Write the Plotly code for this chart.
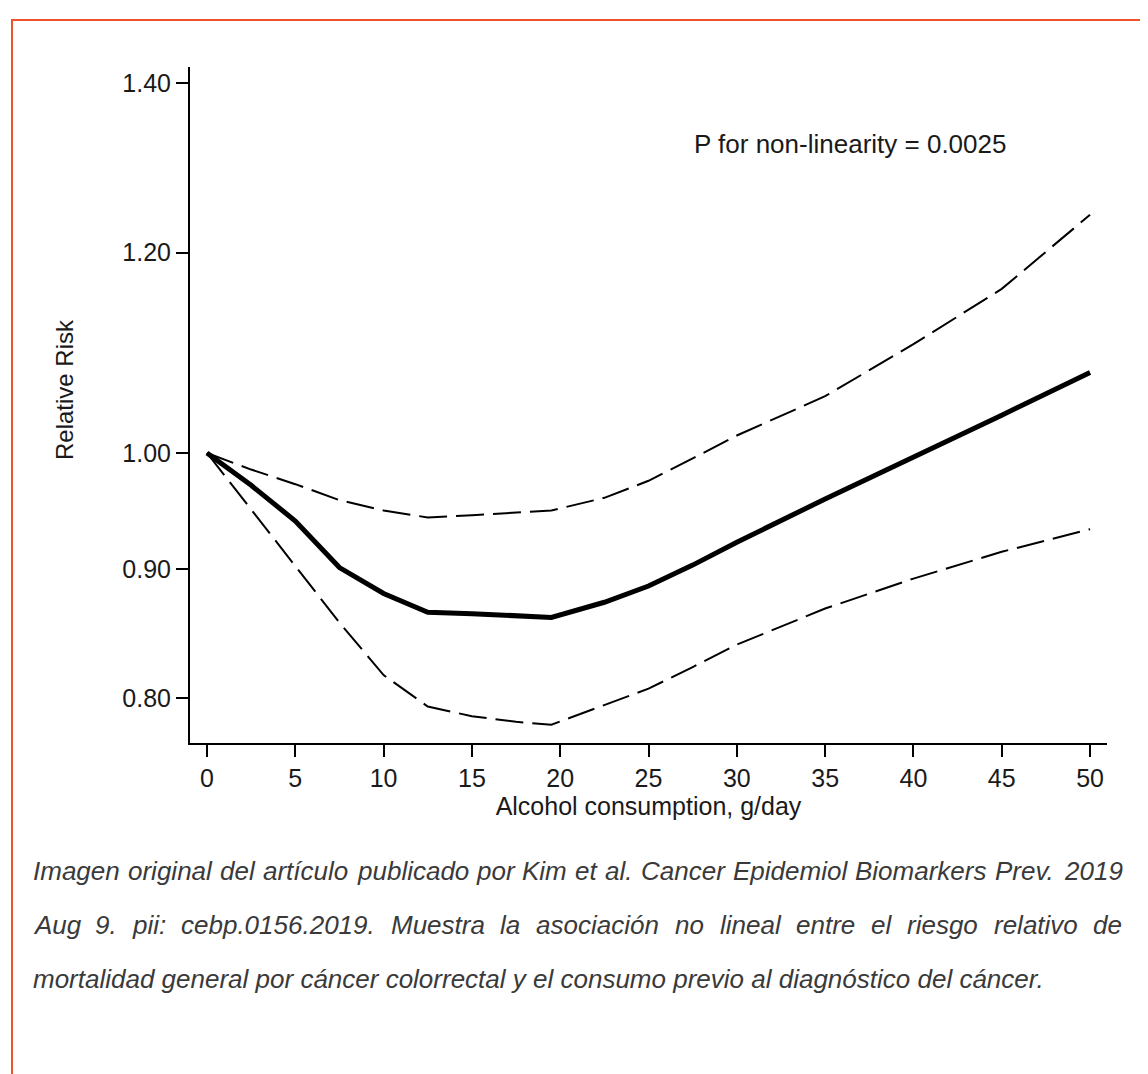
import plotly.graph_objects as go

# ---------------- data ----------------
alcohol = [0, 2.5, 5, 7.5, 10, 12.5, 15, 17.5, 19.5, 22.5, 25, 27.5, 30, 35, 40, 45, 50]
rr      = [1.000, 0.971, 0.940, 0.901, 0.880, 0.865, 0.864, 0.862, 0.861, 0.873, 0.886, 0.903, 0.922, 0.959, 0.996, 1.035, 1.076]
rr_up   = [1.000, 0.985, 0.972, 0.958, 0.949, 0.943, 0.945, 0.947, 0.949, 0.960, 0.975, 0.995, 1.016, 1.053, 1.104, 1.161, 1.242]
rr_lo   = [1.000, 0.950, 0.902, 0.857, 0.817, 0.794, 0.787, 0.783, 0.781, 0.795, 0.807, 0.823, 0.840, 0.868, 0.892, 0.914, 0.933]

x_ticks = [0, 5, 10, 15, 20, 25, 30, 35, 40, 45, 50]
y_ticks = [0.80, 0.90, 1.00, 1.20, 1.40]
y_tick_labels = ["0.80", "0.90", "1.00", "1.20", "1.40"]

annotation_text = "P for non-linearity = 0.0025"
x_title = "Alcohol consumption, g/day"
y_title = "Relative Risk"
caption_lines = [
    "Imagen original del artículo publicado por Kim et al. Cancer Epidemiol Biomarkers Prev. 2019",
    "Aug 9. pii: cebp.0156.2019. Muestra la asociación no lineal entre el riesgo relativo de",
    "mortalidad general por cáncer colorrectal y el consumo previo al diagnóstico del cáncer.",
]

# ---------------- layout constants ----------------
W, H = 1148, 1074
OFF = 8  # page body margin in the browser
FONT = "Liberation Sans, Arial, sans-serif"
TXT = 25
TXT_COLOR = "#1a1a1a"


def px_x(p):
    return (p - OFF) / W


def px_y(p):
    return 1 - (p - OFF) / H


fig = go.Figure()
fig.add_trace(go.Scatter(x=alcohol, y=rr_up, mode="lines",
                         line=dict(color="black", width=2, dash="28px,9px"),
                         showlegend=False, hoverinfo="skip"))
fig.add_trace(go.Scatter(x=alcohol, y=rr_lo, mode="lines",
                         line=dict(color="black", width=2, dash="28px,9px"),
                         showlegend=False, hoverinfo="skip"))
fig.add_trace(go.Scatter(x=alcohol, y=rr, mode="lines",
                         line=dict(color="black", width=5),
                         showlegend=False))

fig.update_layout(
    width=W, height=H,
    margin=dict(l=0, r=0, t=0, b=0),
    paper_bgcolor="white", plot_bgcolor="white",
    font=dict(family=FONT, size=TXT, color=TXT_COLOR),
    xaxis=dict(
        domain=[px_x(190), px_x(1107)],
        range=[-0.963, 50.96],
        tickvals=x_ticks,
        ticks="outside", ticklen=12, tickwidth=2, tickcolor="black",
        showline=True, linewidth=2, linecolor="black",
        showgrid=False, zeroline=False,
        tickfont=dict(size=TXT, family=FONT, color=TXT_COLOR),
        title=dict(text=x_title, standoff=0, font=dict(size=TXT, family=FONT, color=TXT_COLOR)),
    ),
    yaxis=dict(
        domain=[px_y(743), px_y(67)],
        type="log",
        range=[-0.1146, 0.1525],
        tickvals=y_ticks, ticktext=y_tick_labels,
        ticks="outside", ticklen=12, tickwidth=2, tickcolor="black",
        showline=True, linewidth=2, linecolor="black",
        showgrid=False, zeroline=False,
        tickfont=dict(size=TXT, family=FONT, color=TXT_COLOR),
    ),
)

# y-axis title
fig.add_annotation(text=y_title, xref="paper", yref="paper",
                   x=px_x(64), y=px_y(390), xanchor="center", yanchor="middle",
                   textangle=-90, showarrow=False,
                   font=dict(size=TXT - 1, family=FONT, color=TXT_COLOR))

fig.add_annotation(text=annotation_text, xref="paper", yref="paper",
                   x=px_x(692), y=px_y(144), xanchor="left", yanchor="middle",
                   showarrow=False, font=dict(size=TXT + 1, family=FONT, color=TXT_COLOR))

# ---------------- caption (justified, italic) ----------------
CW = {' ': 278, '.': 278, ',': 278, ':': 278, '-': 333, '/': 278}
for ch, w in zip("abcdefghijklmnopqrstuvwxyz",
                 [556, 556, 500, 556, 556, 278, 556, 556, 222, 222, 500, 222, 833,
                  556, 556, 556, 556, 333, 500, 278, 556, 500, 722, 500, 500, 500]):
    CW[ch] = w
for ch, w in zip("ABCDEFGHIJKLMNOPQRSTUVWXYZ",
                 [667, 667, 722, 722, 667, 611, 778, 722, 278, 500, 667, 556, 833,
                  722, 778, 667, 778, 722, 667, 611, 722, 667, 944, 667, 667, 611]):
    CW[ch] = w
for ch in "0123456789":
    CW[ch] = 556
CW.update({'á': 556, 'é': 556, 'í': 278, 'ó': 556, 'ú': 556, 'ñ': 556})


def text_w(s, size):
    return sum(CW.get(c, 556) for c in s) * size / 1000.0


CAP_SIZE = 26
CAP_COLOR = "#3a3a3a"
cap_left, cap_right = 31, 1120
cap_y = [871, 925, 979]
for i, line in enumerate(caption_lines):
    words = line.split(" ")
    if i < len(caption_lines) - 1:
        total = sum(text_w(wd, CAP_SIZE) for wd in words)
        gap = (cap_right - cap_left - total) / (len(words) - 1)
        xpos = cap_left
        for wd in words:
            fig.add_annotation(text=wd, xref="paper", yref="paper",
                               x=px_x(xpos), y=px_y(cap_y[i]), xanchor="left", yanchor="middle",
                               showarrow=False,
                               font=dict(size=CAP_SIZE, family=FONT, color=CAP_COLOR, style="italic"))
            xpos += text_w(wd, CAP_SIZE) + gap
    else:
        fig.add_annotation(text=line, xref="paper", yref="paper",
                           x=px_x(cap_left), y=px_y(cap_y[i]), xanchor="left", yanchor="middle",
                           showarrow=False,
                           font=dict(size=CAP_SIZE, family=FONT, color=CAP_COLOR, style="italic"))

# orange frame
fig.add_shape(type="rect", xref="paper", yref="paper",
              x0=px_x(12), x1=px_x(1141), y0=px_y(1100), y1=px_y(20),
              line=dict(color="#f0522b", width=2), fillcolor="rgba(0,0,0,0)")

fig.write_html("out.html")
